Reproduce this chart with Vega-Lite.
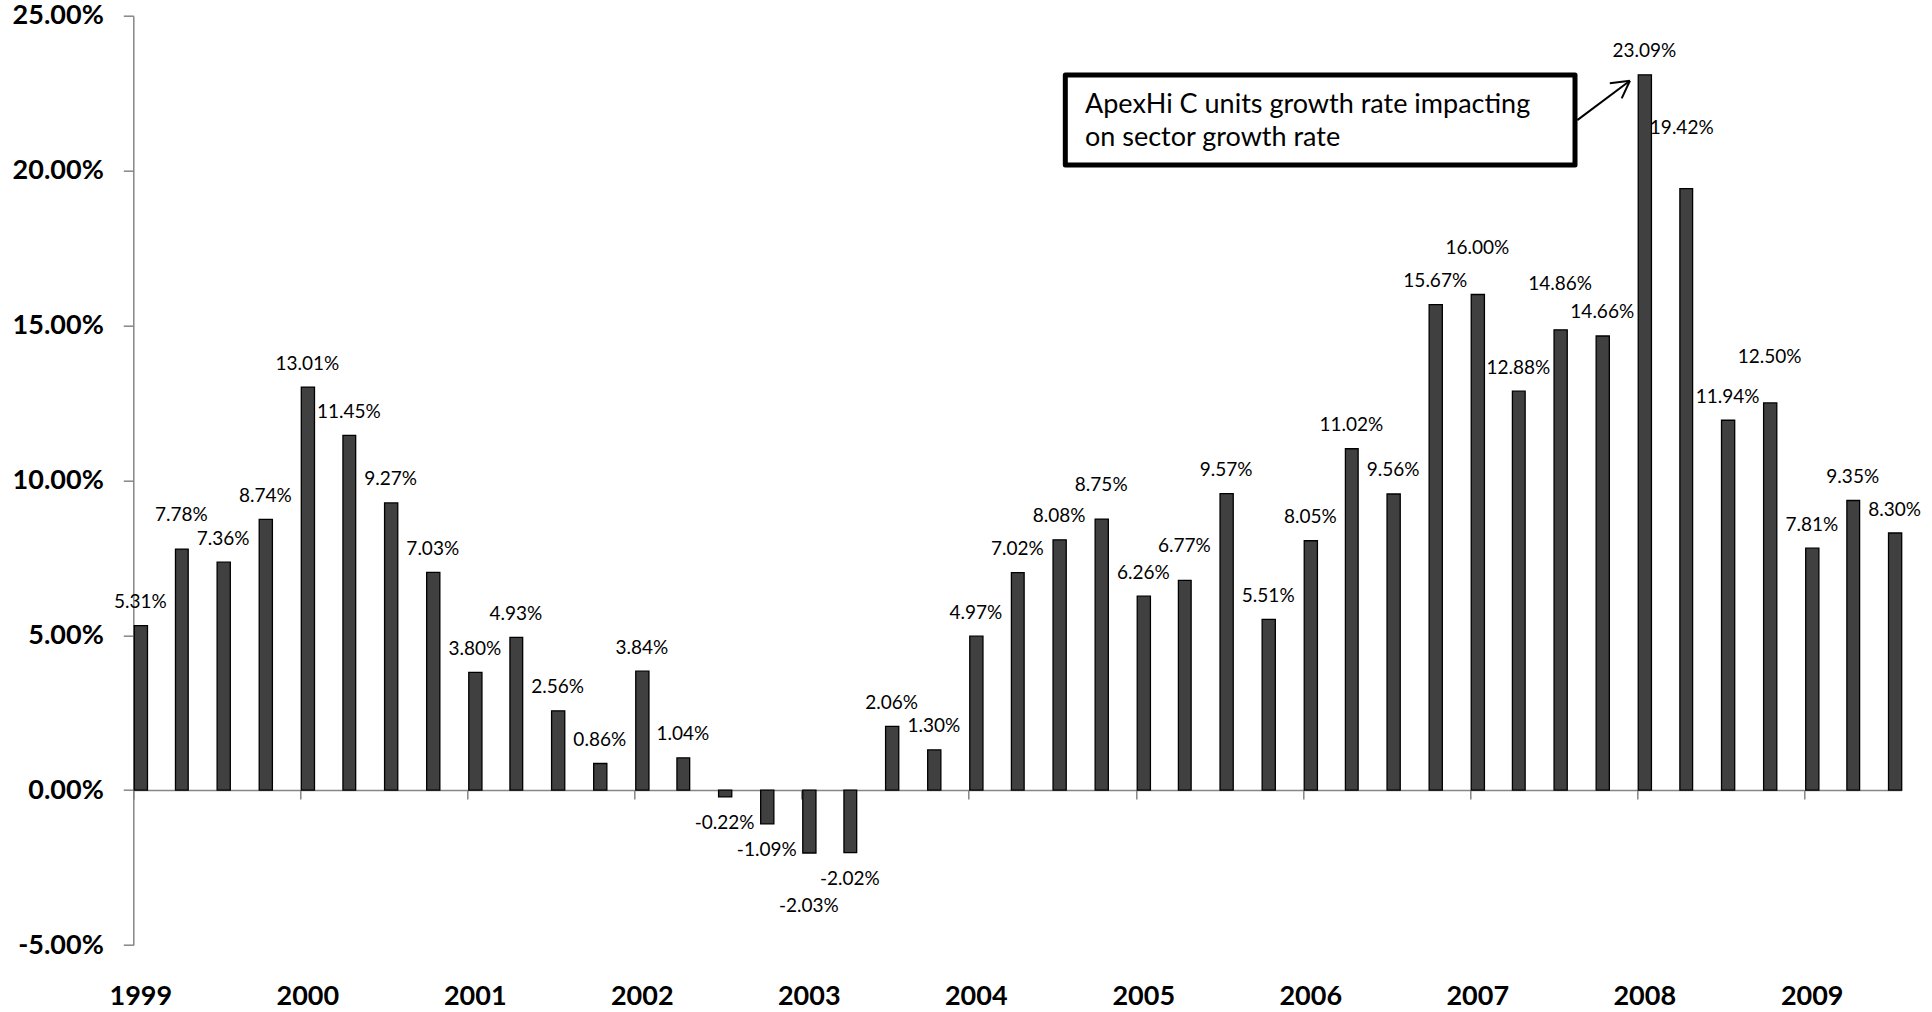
{
  "$schema": "https://vega.github.io/schema/vega-lite/v6.json",
  "width": 1768.4,
  "height": 929.3,
  "autosize": {"type": "none"},
  "padding": {"left": 133.3, "top": 15.7, "right": 30.3, "bottom": 67},
  "background": "white",
  "config": {
    "view": {"stroke": null},
    "locale": {"number": {"decimal": ".", "thousands": ",", "grouping": [3], "currency": ["$", ""], "minus": "-"}}
  },
  "data": {
    "values": [
      {"date": "1999-01-01", "v": 0.0531}, {"date": "1999-04-01", "v": 0.0778}, {"date": "1999-07-01", "v": 0.0736}, {"date": "1999-10-01", "v": 0.0874},
      {"date": "2000-01-01", "v": 0.1301}, {"date": "2000-04-01", "v": 0.1145}, {"date": "2000-07-01", "v": 0.0927}, {"date": "2000-10-01", "v": 0.0703},
      {"date": "2001-01-01", "v": 0.0380}, {"date": "2001-04-01", "v": 0.0493}, {"date": "2001-07-01", "v": 0.0256}, {"date": "2001-10-01", "v": 0.0086},
      {"date": "2002-01-01", "v": 0.0384}, {"date": "2002-04-01", "v": 0.0104}, {"date": "2002-07-01", "v": -0.0022}, {"date": "2002-10-01", "v": -0.0109},
      {"date": "2003-01-01", "v": -0.0203}, {"date": "2003-04-01", "v": -0.0202}, {"date": "2003-07-01", "v": 0.0206}, {"date": "2003-10-01", "v": 0.0130},
      {"date": "2004-01-01", "v": 0.0497}, {"date": "2004-04-01", "v": 0.0702}, {"date": "2004-07-01", "v": 0.0808}, {"date": "2004-10-01", "v": 0.0875},
      {"date": "2005-01-01", "v": 0.0626}, {"date": "2005-04-01", "v": 0.0677}, {"date": "2005-07-01", "v": 0.0957}, {"date": "2005-10-01", "v": 0.0551},
      {"date": "2006-01-01", "v": 0.0805}, {"date": "2006-04-01", "v": 0.1102}, {"date": "2006-07-01", "v": 0.0956}, {"date": "2006-10-01", "v": 0.1567},
      {"date": "2007-01-01", "v": 0.1600}, {"date": "2007-04-01", "v": 0.1288}, {"date": "2007-07-01", "v": 0.1486}, {"date": "2007-10-01", "v": 0.1466},
      {"date": "2008-01-01", "v": 0.2309}, {"date": "2008-04-01", "v": 0.1942}, {"date": "2008-07-01", "v": 0.1194}, {"date": "2008-10-01", "v": 0.1250},
      {"date": "2009-01-01", "v": 0.0781}, {"date": "2009-04-01", "v": 0.0935}, {"date": "2009-07-01", "v": 0.0830}
    ]
  },
  "layer": [
    {
      "mark": {"type": "bar", "fill": "#404040", "stroke": "#000000", "strokeWidth": 1.3},
      "encoding": {
        "x": {
          "field": "date", "type": "temporal", "timeUnit": "utcyearmonth", "title": null,
          "scale": {"type": "utc", "domain": [{"year": 1999, "month": 1, "date": 1, "utc": true}, {"year": 2009, "month": 8, "date": 1, "utc": true}]},
          "axis": {
            "values": [
              {"year": 1999, "month": 1, "date": 1, "utc": true}, {"year": 2000, "month": 1, "date": 1, "utc": true},
              {"year": 2001, "month": 1, "date": 1, "utc": true}, {"year": 2002, "month": 1, "date": 1, "utc": true},
              {"year": 2003, "month": 1, "date": 1, "utc": true}, {"year": 2004, "month": 1, "date": 1, "utc": true},
              {"year": 2005, "month": 1, "date": 1, "utc": true}, {"year": 2006, "month": 1, "date": 1, "utc": true},
              {"year": 2007, "month": 1, "date": 1, "utc": true}, {"year": 2008, "month": 1, "date": 1, "utc": true},
              {"year": 2009, "month": 1, "date": 1, "utc": true}
            ],
            "labelExpr": "utcFormat(datum.value, '%Y')",
            "offset": -154.9, "tickSize": 9, "tickColor": "#868686", "tickWidth": 1.5,
            "domainColor": "#868686", "domainWidth": 1.5, "grid": false,
            "labelFont": "Lato", "labelFontWeight": "bold", "labelFontSize": 27, "labelColor": "#000000",
            "labelPadding": 197.6, "labelBaseline": "middle", "labelOffset": 7, "labelAngle": 0,
            "labelFlush": false, "labelOverlap": false, "labelBound": false
          }
        },
        "y": {
          "field": "v", "type": "quantitative", "title": null,
          "scale": {"domain": [-0.05, 0.25], "nice": false},
          "axis": {
            "values": [-0.05, 0, 0.05, 0.1, 0.15, 0.2, 0.25],
            "format": ".2%", "tickSize": 10, "tickColor": "#868686", "tickWidth": 1.5,
            "domainColor": "#868686", "domainWidth": 1.5, "grid": false,
            "labelFont": "Lato", "labelFontWeight": "bold", "labelFontSize": 27, "labelColor": "#000000",
            "labelPadding": 20, "labelFlush": false, "labelOverlap": false
          }
        }
      }
    },
    {
      "transform": [{"filter": "datum.v >= 0 && indexof([0.0778, 0.0875, 0.0677, 0.16, 0.1486, 0.125, 0.1942], datum.v) < 0"}],
      "mark": {"type": "text", "font": "Lato", "fontSize": 19, "baseline": "middle", "align": "center", "dy": -23.5, "color": "#000000"},
      "encoding": {
        "x": {"field": "date", "type": "temporal", "timeUnit": "utcyearmonth", "bandPosition": 0.5, "title": null},
        "y": {"field": "v", "type": "quantitative", "title": null},
        "text": {"field": "v", "format": ".2%"}
      }
    },
    {
      "transform": [{"filter": {"field": "v", "oneOf": [0.0778, 0.0875, 0.0677]}}],
      "mark": {"type": "text", "font": "Lato", "fontSize": 19, "baseline": "middle", "align": "center", "dy": -34, "color": "#000000"},
      "encoding": {
        "x": {"field": "date", "type": "temporal", "timeUnit": "utcyearmonth", "bandPosition": 0.5, "title": null},
        "y": {"field": "v", "type": "quantitative", "title": null},
        "text": {"field": "v", "format": ".2%"}
      }
    },
    {
      "transform": [{"filter": {"field": "v", "oneOf": [0.16, 0.1486, 0.125]}}],
      "mark": {"type": "text", "font": "Lato", "fontSize": 19, "baseline": "middle", "align": "center", "dy": -46, "color": "#000000"},
      "encoding": {
        "x": {"field": "date", "type": "temporal", "timeUnit": "utcyearmonth", "bandPosition": 0.5, "title": null},
        "y": {"field": "v", "type": "quantitative", "title": null},
        "text": {"field": "v", "format": ".2%"}
      }
    },
    {
      "transform": [{"filter": {"field": "v", "oneOf": [0.1942]}}],
      "mark": {"type": "text", "font": "Lato", "fontSize": 19, "baseline": "middle", "align": "center", "dy": -61, "dx": -4, "color": "#000000"},
      "encoding": {
        "x": {"field": "date", "type": "temporal", "timeUnit": "utcyearmonth", "bandPosition": 0.5, "title": null},
        "y": {"field": "v", "type": "quantitative", "title": null},
        "text": {"field": "v", "format": ".2%"}
      }
    },
    {
      "transform": [{"filter": "datum.v < 0 && datum.v != -0.0203"}],
      "mark": {"type": "text", "font": "Lato", "fontSize": 19, "baseline": "middle", "align": "center", "dy": 26.5, "color": "#000000"},
      "encoding": {
        "x": {"field": "date", "type": "temporal", "timeUnit": "utcyearmonth", "bandPosition": 0.5, "title": null},
        "y": {"field": "v", "type": "quantitative", "title": null},
        "text": {"field": "v", "format": ".2%"}
      }
    },
    {
      "transform": [{"filter": {"field": "v", "oneOf": [-0.0203]}}],
      "mark": {"type": "text", "font": "Lato", "fontSize": 19, "baseline": "middle", "align": "center", "dy": 53, "color": "#000000"},
      "encoding": {
        "x": {"field": "date", "type": "temporal", "timeUnit": "utcyearmonth", "bandPosition": 0.5, "title": null},
        "y": {"field": "v", "type": "quantitative", "title": null},
        "text": {"field": "v", "format": ".2%"}
      }
    },
    {
      "data": {"values": [{}]},
      "mark": {"type": "rect", "fill": "white", "stroke": "#000000", "strokeWidth": 5, "strokeJoin": "round"},
      "encoding": {
        "x": {"datum": {"year": 2004, "month": 7, "date": 30, "utc": true}, "type": "temporal", "title": null},
        "x2": {"datum": {"year": 2007, "month": 8, "date": 18, "utc": true}},
        "y": {"datum": 0.23085, "type": "quantitative", "title": null},
        "y2": {"datum": 0.2018}
      }
    },
    {
      "data": {"values": [{}]},
      "mark": {"type": "text", "text": ["ApexHi C units growth rate impacting", "on sector growth rate"], "align": "left", "baseline": "middle", "font": "Lato", "fontSize": 27, "lineHeight": 33.3, "color": "#000000"},
      "encoding": {
        "x": {"datum": {"year": 2004, "month": 9, "date": 11, "utc": true}, "type": "temporal", "title": null},
        "y": {"datum": 0.2212, "type": "quantitative", "title": null}
      }
    },
    {
      "data": {"values": [{}]},
      "mark": {"type": "rule", "stroke": "#000000", "strokeWidth": 2},
      "encoding": {
        "x": {"datum": {"year": 2007, "month": 8, "date": 23, "utc": true}, "type": "temporal", "title": null},
        "y": {"datum": 0.2163, "type": "quantitative", "title": null},
        "x2": {"datum": {"year": 2007, "month": 12, "date": 16, "utc": true}},
        "y2": {"datum": 0.2290}
      }
    },
    {
      "data": {"values": [{}]},
      "mark": {"type": "rule", "stroke": "#000000", "strokeWidth": 2},
      "encoding": {
        "x": {"datum": {"year": 2007, "month": 11, "date": 2, "utc": true}, "type": "temporal", "title": null},
        "y": {"datum": 0.2282, "type": "quantitative", "title": null},
        "x2": {"datum": {"year": 2007, "month": 12, "date": 16, "utc": true}},
        "y2": {"datum": 0.2290}
      }
    },
    {
      "data": {"values": [{}]},
      "mark": {"type": "rule", "stroke": "#000000", "strokeWidth": 2},
      "encoding": {
        "x": {"datum": {"year": 2007, "month": 11, "date": 28, "utc": true}, "type": "temporal", "title": null},
        "y": {"datum": 0.2233, "type": "quantitative", "title": null},
        "x2": {"datum": {"year": 2007, "month": 12, "date": 16, "utc": true}},
        "y2": {"datum": 0.2290}
      }
    }
  ]
}
